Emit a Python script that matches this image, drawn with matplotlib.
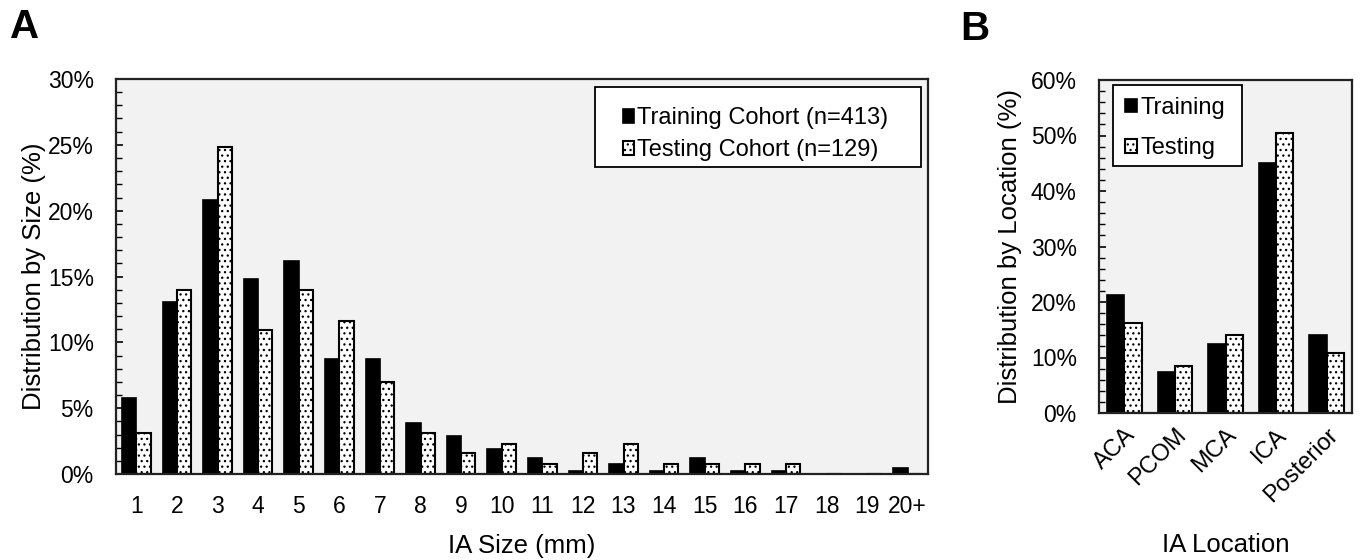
import matplotlib
matplotlib.use("Agg")
import matplotlib.pyplot as plt
import numpy as np
from matplotlib.ticker import MultipleLocator, FuncFormatter
from matplotlib.patches import Rectangle

plt.rcParams['font.family'] = ['Liberation Sans', 'DejaVu Sans']
plt.rcParams['hatch.linewidth'] = 0.9
plt.rcParams['hatch.color'] = 'black'

# donnees (en %)
size_labels = ['1', '2', '3', '4', '5', '6', '7', '8', '9', '10',
               '11', '12', '13', '14', '15', '16', '17', '18', '19', '20+']
train_size = [5.8, 13.1, 20.8, 14.8, 16.2, 8.7, 8.7, 3.9, 2.9, 1.9,
              1.2, 0.24, 0.73, 0.24, 1.2, 0.24, 0.24, 0, 0, 0.48]
test_size = [3.1, 14.0, 24.8, 10.9, 14.0, 11.6, 7.0, 3.1, 1.6, 2.3,
             0.78, 1.6, 2.3, 0.78, 0.78, 0.78, 0.78, 0, 0, 0]

loc_labels = ['ACA', 'PCOM', 'MCA', 'ICA', 'Posterior']
train_loc = [21.3, 7.4, 12.4, 45.0, 14.0]
test_loc = [16.3, 8.5, 14.0, 50.4, 10.9]

W, H = 1360, 560
fig = plt.figure(figsize=(13.6, 5.6), dpi=100)

def box(x0, y0, x1, y1):
    # pixels -> coordonnees figure
    return [x0 / W, 1 - y1 / H, (x1 - x0) / W, (y1 - y0) / H]

axA = fig.add_axes(box(116, 79, 928, 474))
axB = fig.add_axes(box(1099, 80, 1352, 413))

pct = FuncFormatter(lambda v, p: '%d%%' % round(v))
TICK = 16.5
LAB = 18.5
LEG = 17

def style(ax):
    ax.set_facecolor('#f2f2f2')
    for s in ax.spines.values():
        s.set_linewidth(1.6)
        s.set_color('#222222')
    ax.tick_params(axis='y', which='major', direction='in', length=5, width=1.2, labelsize=TICK, pad=16)
    ax.tick_params(axis='y', which='minor', direction='in', length=4, width=1.0)
    ax.tick_params(axis='x', which='both', length=0, labelsize=TICK)
    ax.yaxis.set_major_formatter(pct)

def cadre(ax, x0, y0, x1, y1):
    ax.add_patch(Rectangle((x0, y0), x1 - x0, y1 - y0, transform=ax.transAxes,
                           facecolor='white', edgecolor='black', linewidth=1.3, zorder=4))

# panneau A
w = 0.35
x = np.arange(len(size_labels))
axA.bar(x - w / 2, train_size, w, color='black', edgecolor='black', linewidth=1.2,
        label='Training Cohort (n=413)')
axA.bar(x + w / 2, test_size, w, color='white', edgecolor='black', linewidth=1.5,
        hatch='...', label='Testing Cohort (n=129)')
axA.set_xlim(-0.5, len(size_labels) - 0.5)
axA.set_ylim(0, 30)
axA.yaxis.set_major_locator(MultipleLocator(5))
axA.yaxis.set_minor_locator(MultipleLocator(1))
axA.set_xticks(x)
axA.set_xticklabels(size_labels)
style(axA)
axA.tick_params(axis='x', pad=15)
axA.set_xlabel('IA Size (mm)', fontsize=LAB, labelpad=12)
axA.set_ylabel('Distribution by Size (%)', fontsize=LAB, labelpad=1.5)
cadre(axA, 0.590, 0.777, 0.991, 0.980)
legA = axA.legend(loc='center left', bbox_to_anchor=(0.624, 0.860), borderaxespad=0, borderpad=0,
                  fontsize=LEG, frameon=False, handlelength=0.5, handleheight=0.5,
                  handletextpad=0.12, labelspacing=0.42)
legA.set_zorder(5)

# panneau B
wb = 0.34
xb = np.arange(len(loc_labels))
axB.bar(xb - wb / 2, train_loc, wb, color='black', edgecolor='black', linewidth=1.2,
        label='Training')
axB.bar(xb + wb / 2, test_loc, wb, color='white', edgecolor='black', linewidth=1.5,
        hatch='...', label='Testing')
axB.set_xlim(-0.5, len(loc_labels) - 0.5)
axB.set_ylim(0, 60)
axB.yaxis.set_major_locator(MultipleLocator(10))
axB.yaxis.set_minor_locator(MultipleLocator(2))
axB.set_xticks(xb)
axB.set_xticklabels(loc_labels, rotation=45, ha='right', rotation_mode='anchor')
style(axB)
axB.tick_params(axis='x', pad=8, labelsize=17)
axB.set_xlabel('IA Location', fontsize=LAB, labelpad=19)
axB.set_ylabel('Distribution by Location (%)', fontsize=LAB, labelpad=6)
cadre(axB, 0.0553, 0.742, 0.565, 0.985)
legB = axB.legend(loc='center left', bbox_to_anchor=(0.103, 0.856), borderaxespad=0, borderpad=0,
                  fontsize=LEG, frameon=False, handlelength=0.5, handleheight=0.5,
                  handletextpad=0.15, labelspacing=0.78)
legB.set_zorder(5)

fig.text(10 / W, 1 - 8 / H, 'A', fontsize=29, fontweight='bold', va='top', ha='left')
fig.text(960 / W, 1 - 10 / H, 'B', fontsize=29, fontweight='bold', va='top', ha='left')

fig.savefig('out.png', dpi=100, facecolor='white')
